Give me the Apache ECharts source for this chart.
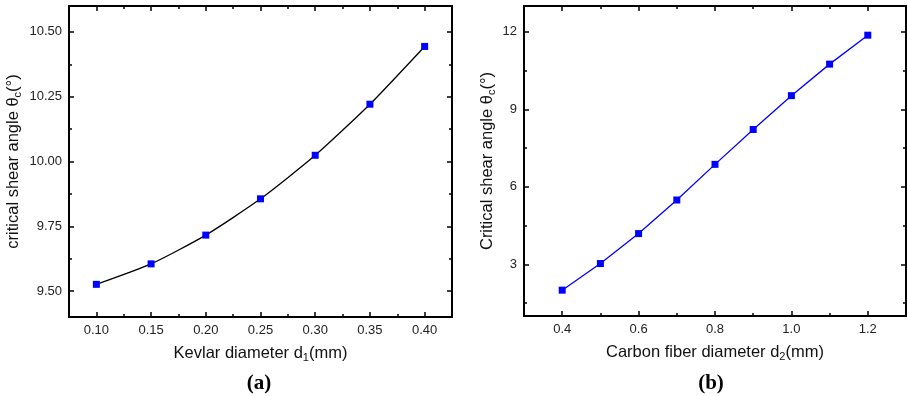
<!DOCTYPE html>
<html>
<head>
<meta charset="utf-8">
<script src="https://cdn.jsdelivr.net/npm/echarts@6/dist/echarts.min.js"></script>
<style>
  html, body { margin: 0; padding: 0; background: #fff; }
  #main { width: 907px; height: 396px; }
</style>
</head>
<body>
<div id="main"></div>
<script>
// (a) Kevlar diameter vs critical shear angle
const kevlarD = [0.10, 0.15, 0.20, 0.25, 0.30, 0.35, 0.40]
const kevlarAngle = [9.526, 9.605, 9.716, 9.856, 10.024, 10.221, 10.444]
const kevlarXTicks = [0.10, 0.15, 0.20, 0.25, 0.30, 0.35, 0.40]
const kevlarXMinor = [0.125, 0.175, 0.225, 0.275, 0.325, 0.375]
const kevlarYTicks = [9.50, 9.75, 10.00, 10.25, 10.50]
const kevlarYMinor = [9.625, 9.875, 10.125, 10.375]

// (b) Carbon fiber diameter vs critical shear angle
const carbonD = [0.4, 0.5, 0.6, 0.7, 0.8, 0.9, 1.0, 1.1, 1.2]
const carbonAngle = [2.0, 3.03, 4.19, 5.49, 6.87, 8.22, 9.53, 10.75, 11.87]
const carbonXTicks = [0.4, 0.6, 0.8, 1.0, 1.2]
const carbonXMinor = [0.5, 0.7, 0.9, 1.1]
const carbonYTicks = [3, 6, 9, 12]
const carbonYMinor = [1.5, 4.5, 7.5, 10.5]

const font = 'Liberation Sans, Arial, sans-serif'
const tickLine = { color: '#000', width: 1.5 }
const nameRich = {
  a: { fontFamily: font, fontSize: 16.5, color: '#111' },
  s: { fontFamily: font, fontSize: 11, color: '#111', verticalAlign: 'bottom', padding: [8, 0, 0, 0] }
}
const panelLabel = { fontFamily: 'Liberation Serif, Times New Roman, serif', fontWeight: 'bold', fontSize: 21, color: '#000' }

// four axes per side pair: main (labels + major ticks), minor ticks, and the mirrored pair
function axisSet(kind, gridIndex, min, max, major, minor, fmt, name, nameGap) {
  const base = {
    type: 'value', gridIndex, min, max,
    axisLine: { show: false },
    splitLine: { show: false }
  }
  const pos = kind === 'x' ? ['bottom', 'top'] : ['left', 'right']
  const ticks = (vals, len) => ({ inside: true, length: len, customValues: vals, lineStyle: tickLine })
  return [
    {
      ...base, position: pos[0],
      name, nameLocation: 'middle', nameGap,
      nameRotate: kind === 'y' ? 90 : 0,
      nameTextStyle: { rich: nameRich },
      axisTick: ticks(major, 5),
      axisLabel: { customValues: major, formatter: fmt, margin: 7, fontFamily: font, fontSize: 13, color: '#222' }
    },
    { ...base, position: pos[0], axisTick: ticks(minor, 3), axisLabel: { show: false } },
    { ...base, position: pos[1], axisTick: ticks(major, 5), axisLabel: { show: false } },
    { ...base, position: pos[1], axisTick: ticks(minor, 3), axisLabel: { show: false } }
  ]
}

const chart = echarts.init(document.getElementById('main'), null, { renderer: 'canvas' })

chart.setOption({
  animation: false,
  title: [
    { text: '(a)', left: 254, top: 368, textAlign: 'center', textStyle: panelLabel },
    { text: '(b)', left: 706, top: 368, textAlign: 'center', textStyle: panelLabel }
  ],
  grid: [
    { left: 69, top: 6, width: 383, height: 311, show: true, borderColor: '#000', borderWidth: 2, containLabel: false },
    { left: 524, top: 6, width: 382, height: 310, show: true, borderColor: '#000', borderWidth: 2, containLabel: false }
  ],
  xAxis: [
    ...axisSet('x', 0, 0.075, 0.425, kevlarXTicks, kevlarXMinor, v => v.toFixed(2),
      '{a|Kevlar diameter d}{s|1}{a|(mm)}', 27),
    ...axisSet('x', 1, 0.3, 1.3, carbonXTicks, carbonXMinor, v => v.toFixed(1),
      '{a|Carbon fiber diameter d}{s|2}{a|(mm)}', 27)
  ],
  yAxis: [
    ...axisSet('y', 0, 9.4, 10.6, kevlarYTicks, kevlarYMinor, v => v.toFixed(2),
      '{a|critical shear angle θ}{s|c}{a|(°)}', 46),
    ...axisSet('y', 1, 1, 13, carbonYTicks, carbonYMinor, v => String(v),
      '{a|Critical shear angle θ}{s|c}{a|(°)}', 27)
  ],
  series: [
    {
      type: 'line',
      xAxisIndex: 0, yAxisIndex: 0,
      data: kevlarD.map((d, i) => [d, kevlarAngle[i]]),
      smooth: 0.2,
      symbol: 'rect', symbolSize: 7,
      lineStyle: { color: '#000', width: 1.3 },
      itemStyle: { color: '#0000ff' }
    },
    {
      type: 'line',
      xAxisIndex: 4, yAxisIndex: 4,
      data: carbonD.map((d, i) => [d, carbonAngle[i]]),
      symbol: 'rect', symbolSize: 7,
      lineStyle: { color: '#0000ff', width: 1.3 },
      itemStyle: { color: '#0000ff' }
    }
  ]
})
</script>
</body>
</html>
